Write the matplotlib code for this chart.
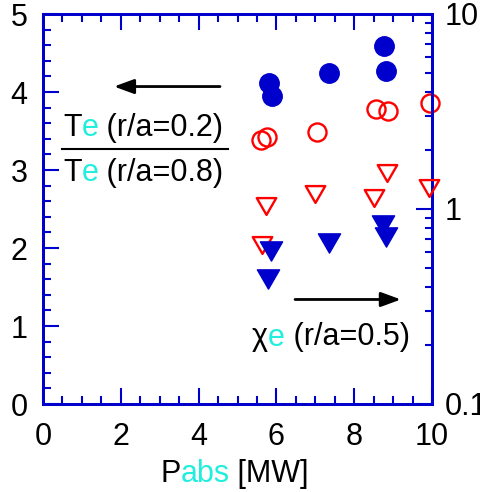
import numpy as np
import matplotlib.pyplot as plt
from matplotlib.path import Path
from matplotlib.ticker import MultipleLocator, FuncFormatter, LogLocator

plt.rcParams['font.family'] = ['Liberation Sans', 'DejaVu Sans']
plt.rcParams['font.size'] = 22

BLUE = '#0000CC'
RED = '#FF0000'
CYAN = '#22EEDD'

# Te(0.2)/Te(0.8), left axis
pabs_te_blue = [5.80, 5.88, 7.35, 8.76, 8.83]
te_ratio_blue = [4.12, 3.95, 4.24, 4.59, 4.27]
pabs_te_red = [5.61, 5.75, 7.04, 8.55, 8.88, 9.95]
te_ratio_red = [3.39, 3.42, 3.49, 3.78, 3.76, 3.86]

# chi_e at r/a=0.5, right (log) axis
pabs_chi_red = [5.62, 5.72, 7.00, 8.52, 8.85, 9.93]
chi_red = [0.65, 1.04, 1.20, 1.14, 1.53, 1.28]
pabs_chi_blue = [5.79, 5.86, 7.35, 8.74, 8.82]
chi_blue = [0.44, 0.61, 0.67, 0.83, 0.72]

# equilateral down-pointing triangle (closed so open markers get all three sides)
tri = Path([(-1, 0.866), (1, 0.866), (0, -0.866), (-1, 0.866)], closed=True)

fig = plt.figure(figsize=(4.81, 4.92), dpi=100)
ax = fig.add_axes([43/481, 88/492, 389/481, 390/492])
ax2 = ax.twinx()

ax.plot(pabs_te_red, te_ratio_red, 'o', ms=13, mfc='none', mec=RED, mew=1.7,
        clip_on=False, zorder=5)
ax.plot(pabs_te_blue, te_ratio_blue, 'o', ms=14, color=BLUE, mec=BLUE,
        clip_on=False, zorder=6)
ax2.plot(pabs_chi_red, chi_red, marker=tri, ls='none', ms=14, mfc='none',
         mec=RED, mew=1.7, clip_on=False, zorder=5)
ax2.plot(pabs_chi_blue, chi_blue, marker=tri, ls='none', ms=16, color=BLUE,
         mec=BLUE, clip_on=False, zorder=6)

ax.set_xlim(0, 10)
ax.set_ylim(0, 5)
ax2.set_yscale('log')
ax2.set_ylim(0.1, 10)

ax.xaxis.set_major_locator(MultipleLocator(2))
ax.xaxis.set_minor_locator(MultipleLocator(0.5))
ax.yaxis.set_major_locator(MultipleLocator(1))
ax.yaxis.set_minor_locator(MultipleLocator(0.2))
ax2.yaxis.set_major_locator(LogLocator(base=10))
ax2.yaxis.set_minor_locator(LogLocator(base=10, subs=np.arange(2, 10)))
ax2.yaxis.set_major_formatter(FuncFormatter(lambda v, p: f'{v:g}'))

ax.tick_params(which='both', direction='in', color=BLUE, width=1.5, top=True)
ax.tick_params(which='major', length=11.5)
ax.tick_params(which='minor', length=6)
ax.tick_params(axis='y', pad=11)
ax.tick_params(axis='x', pad=13)
ax2.tick_params(which='both', direction='in', color=BLUE, width=1.5, pad=9)
ax2.tick_params(which='major', length=11.5)
ax2.tick_params(which='minor', length=5)

for a in (ax, ax2):
    for s in a.spines.values():
        s.set_color(BLUE)
        s.set_linewidth(2)


def colored_text(x, y, parts):
    t = ax.text(x, y, parts[0][0], color=parts[0][1], transform=ax.transAxes,
                va='baseline', ha='left')
    for s, c in parts[1:]:
        t = ax.annotate(s, xy=(1, 0), xycoords=t, va='bottom', ha='left',
                        color=c)


colored_text(0.0514, 0.687, [('T', 'black'), ('e', CYAN), (' (r/a=0.2)', 'black')])
colored_text(0.0514, 0.573, [('T', 'black'), ('e', CYAN), (' (r/a=0.8)', 'black')])
ax.plot([0.0488, 0.4756], [0.653, 0.653], transform=ax.transAxes, color='black',
        lw=1.5, clip_on=False)
colored_text(0.5365, 0.150, [('χ', 'black'), ('e', CYAN), (' (r/a=0.5)', 'black')])
colored_text(0.3008, -0.199, [('P', 'black'), ('abs', CYAN), (' [MW]', 'black')])

arrow = dict(arrowstyle='-|>,head_length=0.6,head_width=0.22', lw=2,
             color='black', shrinkA=0, shrinkB=0, mutation_scale=20)
ax.annotate('', xy=(0.1825, 0.814), xytext=(0.455, 0.814),
            xycoords='axes fraction', arrowprops=arrow)
ax.annotate('', xy=(0.920, 0.268), xytext=(0.648, 0.268),
            xycoords='axes fraction', arrowprops=arrow)

fig.savefig('out.png', dpi=100)
